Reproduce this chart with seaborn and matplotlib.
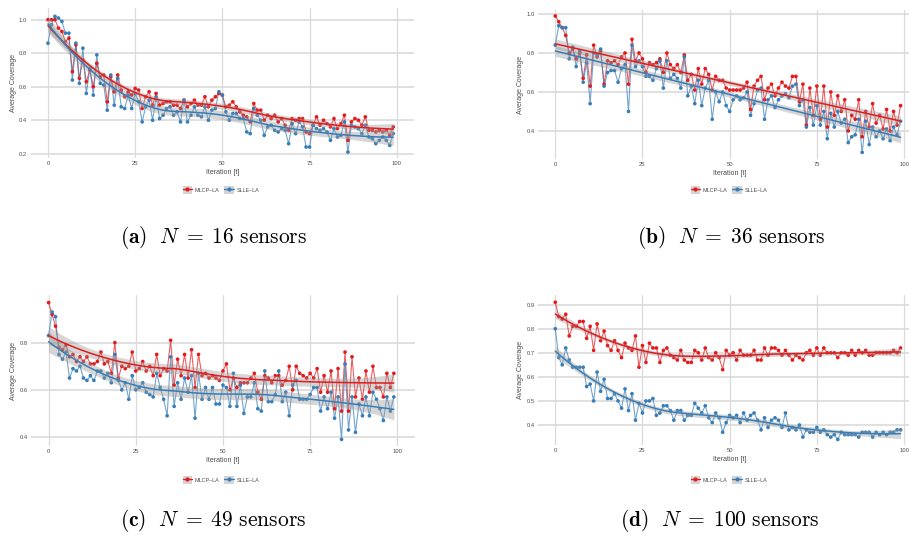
import numpy as np
import pandas as pd
import matplotlib
matplotlib.use("Agg")
import matplotlib.pyplot as plt
import seaborn as sns
from matplotlib.lines import Line2D
from matplotlib.patches import Patch
from matplotlib.legend_handler import HandlerTuple

# ---------------- data ----------------
iterations = list(range(100))
series_names = ["MLCP–LA", "SLLE–LA"]
x_ticks = [0, 25, 50, 75, 100]
y_ticks_a = [0.2, 0.4, 0.6, 0.8, 1.0]
y_ticks_b = [0.4, 0.6, 0.8, 1.0]
y_ticks_c = [0.4, 0.6, 0.8]
y_ticks_d = [0.4, 0.5, 0.6, 0.7, 0.8, 0.9]
captions = [r"$\mathbf{(a)}\ \ N\;=\;16\ \mathrm{sensors}$",
            r"$\mathbf{(b)}\ \ N\;=\;36\ \mathrm{sensors}$",
            r"$\mathbf{(c)}\ \ N\;=\;49\ \mathrm{sensors}$",
            r"$\mathbf{(d)}\ \ N\;=\;100\ \mathrm{sensors}$"]

# (a) N = 16
mlcp_a = [1.00, 1.00, 1.00, 0.95, 0.93, 0.87, 0.89, 0.69, 0.85, 0.65,
          0.76, 0.63, 0.70, 0.60, 0.74, 0.66, 0.67, 0.51, 0.66, 0.57,
          0.67, 0.58, 0.54, 0.57, 0.55, 0.59, 0.58, 0.47, 0.54, 0.57,
          0.49, 0.56, 0.49, 0.50, 0.51, 0.51, 0.49, 0.49, 0.47, 0.52,
          0.48, 0.50, 0.52, 0.49, 0.49, 0.54, 0.48, 0.52, 0.54, 0.56,
          0.55, 0.48, 0.49, 0.51, 0.48, 0.45, 0.43, 0.42, 0.39, 0.50,
          0.46, 0.46, 0.40, 0.43, 0.41, 0.43, 0.39, 0.41, 0.37, 0.34,
          0.41, 0.40, 0.41, 0.41, 0.33, 0.32, 0.37, 0.42, 0.37, 0.40,
          0.38, 0.36, 0.41, 0.35, 0.38, 0.43, 0.28, 0.39, 0.41, 0.40,
          0.37, 0.42, 0.34, 0.34, 0.33, 0.34, 0.33, 0.34, 0.31, 0.36]
slle_a = [0.86, 0.97, 1.02, 1.01, 0.99, 0.92, 0.92, 0.64, 0.86, 0.62,
          0.83, 0.56, 0.71, 0.55, 0.79, 0.62, 0.61, 0.46, 0.67, 0.49,
          0.65, 0.48, 0.47, 0.55, 0.47, 0.56, 0.51, 0.39, 0.48, 0.52,
          0.40, 0.54, 0.41, 0.43, 0.47, 0.48, 0.43, 0.45, 0.39, 0.52,
          0.39, 0.43, 0.48, 0.43, 0.42, 0.48, 0.40, 0.46, 0.47, 0.57,
          0.55, 0.45, 0.40, 0.44, 0.44, 0.41, 0.41, 0.33, 0.32, 0.47,
          0.43, 0.40, 0.31, 0.36, 0.37, 0.34, 0.33, 0.35, 0.34, 0.26,
          0.38, 0.32, 0.39, 0.36, 0.24, 0.24, 0.37, 0.35, 0.34, 0.35,
          0.33, 0.28, 0.35, 0.30, 0.31, 0.39, 0.21, 0.37, 0.36, 0.35,
          0.32, 0.37, 0.30, 0.29, 0.26, 0.28, 0.30, 0.28, 0.25, 0.32]

# (b) N = 36
mlcp_b = [0.99, 0.96, 0.93, 0.89, 0.80, 0.82, 0.77, 0.80, 0.67, 0.79,
          0.63, 0.84, 0.78, 0.81, 0.64, 0.76, 0.75, 0.76, 0.74, 0.78,
          0.80, 0.64, 0.87, 0.76, 0.80, 0.77, 0.70, 0.75, 0.74, 0.75,
          0.77, 0.70, 0.80, 0.74, 0.72, 0.74, 0.70, 0.79, 0.66, 0.69,
          0.61, 0.72, 0.64, 0.72, 0.69, 0.61, 0.68, 0.66, 0.66, 0.62,
          0.61, 0.61, 0.61, 0.61, 0.62, 0.65, 0.51, 0.63, 0.66, 0.68,
          0.56, 0.62, 0.64, 0.58, 0.62, 0.65, 0.63, 0.62, 0.68, 0.68,
          0.55, 0.64, 0.43, 0.62, 0.48, 0.63, 0.46, 0.63, 0.42, 0.60,
          0.48, 0.58, 0.50, 0.56, 0.40, 0.48, 0.46, 0.56, 0.37, 0.50,
          0.42, 0.54, 0.44, 0.48, 0.41, 0.51, 0.40, 0.50, 0.43, 0.53]
slle_b = [0.84, 0.94, 0.93, 0.93, 0.77, 0.83, 0.73, 0.81, 0.65, 0.75,
          0.54, 0.80, 0.79, 0.82, 0.63, 0.70, 0.71, 0.71, 0.65, 0.72,
          0.74, 0.50, 0.84, 0.73, 0.76, 0.73, 0.68, 0.68, 0.66, 0.72,
          0.76, 0.62, 0.76, 0.67, 0.69, 0.67, 0.62, 0.78, 0.58, 0.63,
          0.54, 0.66, 0.53, 0.62, 0.66, 0.46, 0.60, 0.55, 0.60, 0.53,
          0.50, 0.56, 0.58, 0.56, 0.57, 0.60, 0.48, 0.54, 0.61, 0.62,
          0.46, 0.56, 0.58, 0.52, 0.56, 0.58, 0.59, 0.57, 0.63, 0.64,
          0.53, 0.56, 0.42, 0.52, 0.43, 0.53, 0.43, 0.50, 0.36, 0.49,
          0.42, 0.50, 0.44, 0.46, 0.34, 0.37, 0.38, 0.46, 0.29, 0.45,
          0.33, 0.42, 0.37, 0.40, 0.36, 0.41, 0.35, 0.42, 0.38, 0.45]

# (c) N = 49
mlcp_c = [0.97, 0.92, 0.87, 0.78, 0.77, 0.79, 0.74, 0.75, 0.72, 0.74,
          0.72, 0.74, 0.71, 0.71, 0.72, 0.76, 0.71, 0.72, 0.67, 0.80,
          0.65, 0.70, 0.69, 0.70, 0.76, 0.68, 0.69, 0.72, 0.68, 0.70,
          0.66, 0.75, 0.66, 0.69, 0.68, 0.81, 0.62, 0.73, 0.66, 0.75,
          0.65, 0.77, 0.61, 0.75, 0.66, 0.67, 0.65, 0.66, 0.65, 0.64,
          0.68, 0.71, 0.60, 0.65, 0.61, 0.63, 0.63, 0.63, 0.65, 0.67,
          0.59, 0.56, 0.66, 0.65, 0.63, 0.66, 0.66, 0.62, 0.64, 0.70,
          0.60, 0.70, 0.67, 0.66, 0.65, 0.67, 0.65, 0.69, 0.59, 0.66,
          0.59, 0.68, 0.52, 0.69, 0.51, 0.76, 0.51, 0.74, 0.57, 0.65,
          0.56, 0.68, 0.59, 0.70, 0.61, 0.61, 0.57, 0.67, 0.61, 0.67]
slle_c = [0.83, 0.93, 0.91, 0.75, 0.73, 0.76, 0.65, 0.69, 0.68, 0.70,
          0.65, 0.64, 0.66, 0.64, 0.68, 0.68, 0.65, 0.67, 0.63, 0.75,
          0.64, 0.60, 0.63, 0.56, 0.66, 0.60, 0.61, 0.63, 0.59, 0.58,
          0.57, 0.67, 0.61, 0.56, 0.49, 0.74, 0.53, 0.63, 0.56, 0.65,
          0.59, 0.66, 0.48, 0.67, 0.56, 0.61, 0.56, 0.61, 0.54, 0.54,
          0.62, 0.61, 0.53, 0.67, 0.53, 0.62, 0.50, 0.57, 0.57, 0.63,
          0.52, 0.51, 0.68, 0.55, 0.55, 0.58, 0.68, 0.55, 0.59, 0.49,
          0.62, 0.64, 0.56, 0.56, 0.56, 0.58, 0.61, 0.61, 0.51, 0.57,
          0.52, 0.59, 0.48, 0.57, 0.39, 0.71, 0.43, 0.57, 0.42, 0.54,
          0.49, 0.57, 0.49, 0.59, 0.56, 0.52, 0.47, 0.57, 0.51, 0.57]

# (d) N = 100
mlcp_d = [0.91, 0.85, 0.84, 0.86, 0.77, 0.81, 0.81, 0.83, 0.83, 0.76,
          0.81, 0.71, 0.82, 0.75, 0.79, 0.73, 0.71, 0.75, 0.71, 0.68,
          0.74, 0.72, 0.71, 0.77, 0.64, 0.73, 0.66, 0.74, 0.72, 0.72,
          0.66, 0.71, 0.72, 0.69, 0.68, 0.67, 0.71, 0.67, 0.66, 0.66,
          0.71, 0.70, 0.67, 0.72, 0.68, 0.67, 0.70, 0.68, 0.63, 0.71,
          0.69, 0.70, 0.67, 0.71, 0.69, 0.69, 0.69, 0.71, 0.67, 0.67,
          0.72, 0.69, 0.72, 0.72, 0.71, 0.69, 0.71, 0.69, 0.67, 0.69,
          0.68, 0.67, 0.70, 0.71, 0.69, 0.72, 0.69, 0.72, 0.70, 0.70,
          0.70, 0.68, 0.70, 0.70, 0.69, 0.71, 0.69, 0.71, 0.70, 0.71,
          0.69, 0.69, 0.70, 0.70, 0.70, 0.70, 0.70, 0.71, 0.70, 0.72]
slle_d = [0.80, 0.68, 0.65, 0.72, 0.67, 0.64, 0.64, 0.64, 0.64, 0.56,
          0.57, 0.50, 0.62, 0.54, 0.59, 0.51, 0.51, 0.53, 0.50, 0.47,
          0.55, 0.46, 0.53, 0.42, 0.49, 0.45, 0.50, 0.50, 0.51, 0.44,
          0.45, 0.48, 0.48, 0.46, 0.42, 0.46, 0.46, 0.42, 0.44, 0.44,
          0.49, 0.47, 0.45, 0.48, 0.43, 0.41, 0.45, 0.43, 0.37, 0.41,
          0.44, 0.43, 0.44, 0.41, 0.45, 0.42, 0.44, 0.45, 0.42, 0.38,
          0.43, 0.39, 0.42, 0.43, 0.42, 0.39, 0.45, 0.38, 0.39, 0.38,
          0.40, 0.35, 0.38, 0.37, 0.37, 0.39, 0.37, 0.38, 0.36, 0.35,
          0.36, 0.34, 0.37, 0.36, 0.36, 0.36, 0.36, 0.35, 0.37, 0.37,
          0.37, 0.35, 0.37, 0.36, 0.37, 0.36, 0.37, 0.37, 0.38, 0.38]

# ---------------- style ----------------
sns.set_style("white")
plt.rcParams["font.family"] = ["Liberation Sans", "DejaVu Sans"]
plt.rcParams["mathtext.fontset"] = "cm"

W, H = 909, 536
fig = plt.figure(figsize=(W / 100, H / 100), dpi=100)

palette = {"MLCP–LA": "#E41A1C", "SLLE–LA": "#377EB8"}
text_grey = "#4d4d4d"


def smooth_fit(x, y, xs, method="loess", span=0.75):
    x = np.asarray(x, float)
    y = np.asarray(y, float)
    n = len(x)
    if method == "lm":
        X = np.column_stack([np.ones(n), x])
        beta, *_ = np.linalg.lstsq(X, y, rcond=None)
        resid = y - X @ beta
        sigma = np.sqrt(resid @ resid / (n - 2))
        Xs = np.column_stack([np.ones(len(xs)), xs])
        cov = np.linalg.inv(X.T @ X)
        se = sigma * np.sqrt(np.einsum("ij,jk,ik->i", Xs, cov, Xs))
        return Xs @ beta, 1.985 * se
    q = int(np.floor(span * n))

    def row(x0):
        d = np.abs(x - x0)
        h = np.sort(d)[q - 1] * 1.0001
        u = d / h
        w = np.where(u < 1, (1 - u ** 3) ** 3, 0.0)
        X = np.column_stack([np.ones(n), x - x0, (x - x0) ** 2])
        XtW = X.T * w
        return np.linalg.solve(XtW @ X, XtW)[0]

    L = np.array([row(v) for v in x])
    Ls = np.array([row(v) for v in xs])
    fit = Ls @ y
    resid = y - L @ y
    IL = np.eye(n) - L
    d1 = np.trace(IL.T @ IL)
    sigma = np.sqrt(resid @ resid / d1)
    se = sigma * np.sqrt((Ls ** 2).sum(axis=1))
    return fit, 1.985 * se


panels = [
    # data red, data blue, yticks, ylim, rect px (left, top, width, bottom), fit
    (mlcp_a, slle_a, y_ticks_a, (0.1745, 1.070), (30.7, 8, 383.3, 158), "loess"),
    (mlcp_b, slle_b, y_ticks_b, (0.256, 1.0205), (538.0, 10, 383.3, 159), "lm"),
    (mlcp_c, slle_c, y_ticks_c, (0.362, 1.002), (31.3, 295, 383.3, 446), "loess"),
    (mlcp_d, slle_d, y_ticks_d, (0.317, 0.940), (538.0, 295, 383.3, 445), "loess"),
]
ylabel_x = [17, 524, 17, 524]
legend_pos = [(221, 190), (729, 190), (221, 480), (729, 480)]
caption_pos = [(214, 237), (731, 237), (213, 521), (720, 521)]

for i, (red, blue, yt, ylim, (lpx, tpx, wpx, bpx), method) in enumerate(panels):
    ax = fig.add_axes([lpx / W, 1 - bpx / H, wpx / W, (bpx - tpx) / H])
    df = pd.DataFrame({
        "t": iterations * 2,
        "value": list(red) + list(blue),
        "series": [series_names[0]] * 100 + [series_names[1]] * 100,
    })
    sns.lineplot(data=df, x="t", y="value", hue="series", palette=palette,
                 ax=ax, lw=0.8, alpha=0.7, legend=False, zorder=2)
    sns.scatterplot(data=df, x="t", y="value", hue="series", palette=palette,
                    ax=ax, s=7, linewidth=0, legend=False, zorder=3)
    xs = np.linspace(0, 99, 80)
    for name, vals in zip(series_names, (red, blue)):
        fit, ci = smooth_fit(iterations, vals, xs, method=method)
        ax.fill_between(xs, fit - ci, fit + ci, color="#999999", alpha=0.4,
                        lw=0, zorder=4)
        ax.plot(xs, fit, color=palette[name], lw=1.1, zorder=5)

    ax.set_xlim(-4.95, 104.95)
    ax.set_ylim(*ylim)
    ax.set_xticks(x_ticks)
    ax.set_yticks(yt)
    ax.set_yticklabels([f"{v:.1f}" for v in yt])
    ax.set_axisbelow(True)
    ax.grid(True, axis="y", color="#dadada", lw=1.2)
    ax.grid(True, axis="x", color="#dadada", lw=0.9)
    for s in ax.spines.values():
        s.set_visible(False)
    ax.tick_params(length=0, labelsize=4.2, labelcolor=text_grey, pad=2.5)
    ax.set_xlabel("Iteration [t]", fontsize=5, color=text_grey, labelpad=1.5)
    ax.set_ylabel("Average Coverage", fontsize=5, color=text_grey)
    ax.yaxis.set_label_coords((ylabel_x[i] - lpx) / wpx, 0.5)

    handles = [(Patch(facecolor="#d4d4d4", edgecolor="none"),
                Line2D([], [], color=palette[n], lw=1, marker="o", ms=2))
               for n in series_names]
    lx, ly = legend_pos[i]
    fig.legend(handles, series_names, loc="center",
               bbox_to_anchor=(lx / W, 1 - ly / H), ncol=2, frameon=False,
               fontsize=3.9, handlelength=1.7, handleheight=1.7,
               handletextpad=0.5, columnspacing=0.9, labelcolor=text_grey,
               handler_map={tuple: HandlerTuple(ndivide=1)})

    cx, cy = caption_pos[i]
    fig.text(cx / W, 1 - cy / H, captions[i], ha="center", va="center",
             fontsize=15.5, color="black")

fig.savefig("out.png", dpi=100)
